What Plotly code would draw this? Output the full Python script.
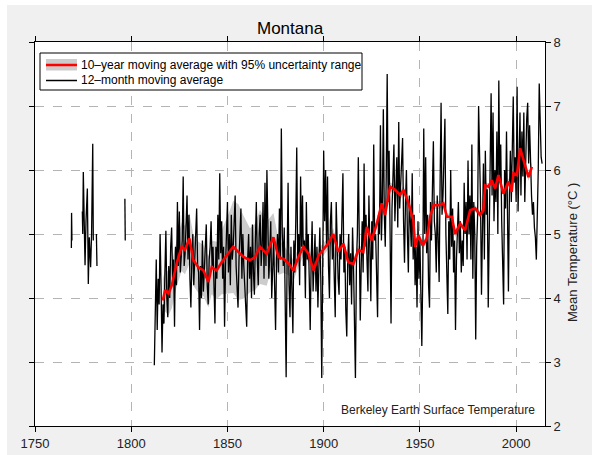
"""
Montana mean temperature, Berkeley Earth style chart.
"""
import plotly.graph_objects as go

# early, fragmentary 12-month moving average records
early_years = [
    [1768.9, 1769.0, 1769.2],
    [1774.6, 1774.8, 1775.1, 1775.6, 1776.0, 1776.5, 1777.2, 1777.7,
     1778.2, 1778.9, 1779.4, 1780.0, 1780.3],
    [1781.9, 1782.2],
    [1796.7, 1796.9],
]
early_temps = [
    [4.78, 5.33, 4.90],
    [5.35, 5.00, 5.97, 4.85, 4.51, 5.20, 5.71, 4.22, 4.95, 4.48, 5.00, 6.41, 4.90],
    [5.00, 4.50],
    [5.55, 4.90],
]

# continuous 12-month moving average, half-year samples from 1812.0
monthly_start = 1812.0
monthly_temps = [
    2.95, 4.0, 4.6, 3.5, 4.3, 3.9, 5.0, 4.2, 3.15, 3.9,    # 1812-1816
    3.6, 4.4, 5.05, 4.0, 3.7, 4.5, 4.0, 4.8, 5.1, 4.3,     # 1817-1821
    4.6, 3.55, 4.8, 4.2, 5.5, 4.5, 5.35, 4.4, 4.6, 4.9,    # 1822-1826
    5.9, 4.5, 4.7, 5.1, 5.6, 4.6, 5.3, 4.3, 3.85, 4.6,     # 1827-1831
    5.0, 4.2, 4.7, 5.0, 5.4, 4.5, 4.4, 3.5, 4.5, 4.0,      # 1832-1836
    4.9, 4.1, 4.4, 4.8, 5.15, 4.2, 3.9, 4.6, 4.8, 5.2,     # 1837-1841
    4.5, 4.8, 4.0, 3.6, 4.8, 4.3, 5.3, 4.6, 5.95, 4.7,     # 1842-1846
    5.2, 4.3, 4.8, 3.55, 4.5, 4.9, 5.5, 4.4, 5.0, 4.2,     # 1847-1851
    5.3, 4.6, 4.8, 5.2, 5.6, 4.5, 4.2, 3.85, 4.6, 4.9,     # 1852-1856
    5.4, 4.3, 5.0, 4.5, 4.1, 3.75, 3.55, 4.6, 5.0, 4.3,    # 1857-1861
    4.8, 4.0, 5.15, 4.4, 4.05, 4.9, 5.5, 4.6, 4.2, 5.0,    # 1862-1866
    5.3, 4.5, 4.8, 5.5, 4.3, 5.8, 4.5, 6.0, 5.1, 4.3,      # 1867-1871
    4.7, 5.2, 4.0, 4.5, 4.9, 4.2, 3.5, 4.6, 5.0, 4.4,      # 1872-1876
    5.4, 4.6, 6.65, 5.0, 4.5, 5.1, 3.6, 2.76, 4.6, 5.8,    # 1877-1881
    4.2, 3.7, 4.8, 4.3, 3.45, 4.9, 4.4, 5.2, 6.35, 4.6,    # 1882-1886
    5.0, 4.2, 5.9, 4.8, 5.6, 4.5, 4.9, 4.0, 5.5, 4.6,      # 1887-1891
    5.0, 4.3, 3.5, 4.6, 5.2, 4.1, 4.5, 5.0, 4.1, 4.8,      # 1892-1896
    3.85, 4.7, 5.1, 4.3, 2.75, 4.5, 6.3, 5.2, 6.0, 4.8,    # 1897-1901
    5.9, 4.5, 4.0, 5.2, 5.5, 4.6, 5.0, 4.3, 3.7, 5.5,      # 1902-1906
    4.8, 4.3, 4.05, 5.0, 4.6, 5.3, 5.95, 4.4, 4.8, 3.8,    # 1907-1911
    3.4, 4.6, 5.0, 4.2, 4.7, 3.9, 5.1, 4.5, 3.8, 2.75,     # 1912-1916
    4.5, 5.0, 6.2, 4.8, 3.65, 4.5, 5.2, 4.4, 6.1, 4.8,     # 1917-1921
    5.3, 4.6, 4.1, 5.6, 4.5, 3.95, 5.2, 4.6, 6.4, 4.9,     # 1922-1926
    5.0, 4.3, 3.7, 5.3, 5.0, 6.7, 4.9, 5.5, 6.95, 5.3,     # 1927-1931
    4.8, 5.9, 7.5, 5.5, 6.3, 5.0, 3.6, 5.4, 5.8, 6.4,      # 1932-1936
    5.2, 6.0, 6.2, 5.1, 6.75, 5.4, 5.8, 6.2, 6.5, 5.2,     # 1937-1941
    4.55, 5.5, 6.0, 5.0, 4.4, 5.6, 5.1, 4.8, 5.95, 4.6,    # 1942-1946
    5.3, 4.2, 4.8, 3.85, 5.2, 4.3, 4.9, 3.6, 3.25, 4.4,    # 1947-1951
    6.65, 5.0, 6.2, 4.7, 5.3, 4.2, 3.85, 5.5, 4.9, 5.7,    # 1952-1956
    6.45, 5.2, 5.0, 4.4, 5.6, 4.9, 4.25, 5.8, 7.05, 5.3,   # 1957-1961
    5.6, 6.2, 6.8, 5.0, 4.5, 3.75, 5.2, 4.6, 6.0, 4.8,     # 1962-1966
    5.4, 4.4, 4.9, 3.5, 4.6, 5.0, 5.5, 4.7, 5.2, 4.4,      # 1967-1971
    4.9, 4.5, 5.8, 5.0, 5.5, 4.6, 6.15, 5.0, 5.6, 4.6,     # 1972-1976
    6.4, 4.3, 5.5, 5.0, 3.35, 4.8, 5.3, 7.0, 6.2, 5.5,     # 1977-1981
    4.05, 5.0, 6.1, 4.6, 6.3, 5.3, 5.7, 3.85, 5.0, 6.2,    # 1982-1986
    7.2, 5.6, 6.9, 5.2, 6.0, 5.5, 6.6, 5.0, 7.4, 5.8,      # 1987-1991
    6.4, 5.2, 4.7, 3.9, 6.0, 5.4, 6.6, 5.2, 4.1, 5.6,      # 1992-1996
    6.3, 5.5, 6.8, 7.15, 5.8, 6.2, 5.5, 7.3, 5.35, 6.5,    # 1997-2001
    6.9, 5.6, 6.6, 5.9, 6.9, 5.5, 6.3, 6.8, 7.05, 6.1,     # 2002-2006
    6.7, 5.8, 5.6, 5.3, 5.5, 5.1, 4.95, 4.6, 5.3, 6.0,     # 2007-2011
    7.35, 6.6, 6.2, 6.1,                                    # 2012-2013
]

# 10-year moving average and its 95% uncertainty half-width
decade_years = [
    1816.4, 1817.6, 1819.4, 1821.1, 1823.6, 1826.2, 1827.9, 1830.2, 1832.3, 1834.9,
    1837.5, 1840.1, 1841.8, 1844.4, 1847.0, 1850.5, 1853.0, 1855.6, 1858.3, 1861.7,
    1864.3, 1866.9, 1870.4, 1873.9, 1876.5, 1879.1, 1881.7, 1884.3, 1886.9, 1889.5,
    1892.1, 1894.7, 1897.3, 1899.9, 1902.5, 1905.0, 1907.6, 1910.2, 1912.8, 1915.4,
    1918.0, 1920.6, 1922.4, 1924.9, 1927.6, 1930.2, 1931.9, 1934.5, 1937.1, 1939.7,
    1941.5, 1944.1, 1946.6, 1947.5, 1949.2, 1951.5, 1953.6, 1955.3, 1957.1, 1959.7,
    1962.2, 1964.0, 1966.6, 1968.3, 1970.9, 1973.5, 1976.1, 1978.7, 1981.3, 1983.0,
    1983.9, 1985.6, 1987.3, 1989.1, 1990.8, 1993.4, 1996.0, 1997.7, 1998.6, 2000.4,
    2002.1, 2003.9, 2006.4, 2008.2,
]
decade_temps = [
    3.96, 4.12, 4.07, 4.20, 4.54, 4.80, 4.75, 4.93, 4.59, 4.48,
    4.43, 4.25, 4.48, 4.43, 4.56, 4.69, 4.80, 4.72, 4.64, 4.59,
    4.64, 4.80, 4.69, 4.95, 4.64, 4.61, 4.54, 4.43, 4.64, 4.80,
    4.69, 4.43, 4.66, 4.76, 4.86, 5.00, 4.72, 4.85, 4.56, 4.53,
    4.75, 4.72, 5.11, 4.90, 5.16, 5.48, 5.30, 5.74, 5.69, 5.61,
    5.69, 5.48, 5.21, 4.80, 4.98, 4.82, 4.93, 5.27, 5.45, 5.45,
    5.48, 5.27, 5.27, 5.00, 5.16, 5.06, 5.37, 5.40, 5.30, 5.37,
    5.76, 5.74, 5.84, 5.71, 5.92, 5.63, 5.82, 5.66, 5.95, 5.92,
    6.34, 6.15, 5.89, 6.05,
]
decade_unc = [
    0.33, 0.33, 0.34, 0.36, 0.36, 0.38, 0.38, 0.40, 0.40, 0.40,
    0.40, 0.40, 0.42, 0.45, 0.50, 0.62, 0.72, 0.75, 0.65, 0.50,
    0.52, 0.58, 0.50, 0.38, 0.28, 0.22, 0.18, 0.16, 0.15, 0.14,
    0.13, 0.12, 0.11, 0.10, 0.09, 0.09, 0.08, 0.08, 0.08, 0.08,
    0.07, 0.07, 0.07, 0.07, 0.07, 0.07, 0.07, 0.07, 0.07, 0.07,
    0.06, 0.06, 0.06, 0.06, 0.06, 0.06, 0.06, 0.06, 0.06, 0.06,
    0.05, 0.05, 0.05, 0.05, 0.05, 0.05, 0.05, 0.05, 0.05, 0.05,
    0.05, 0.05, 0.05, 0.05, 0.05, 0.05, 0.05, 0.05, 0.05, 0.05,
    0.06, 0.06, 0.06, 0.07,
]

x_ticks = [1750, 1800, 1850, 1900, 1950, 2000]
y_ticks = [2, 3, 4, 5, 6, 7, 8]

FONT = "Arial, Liberation Sans, sans-serif"
BG = "#f0f0f0"
GRID = "#b4b4b4"

# plot area in pixels (592x455 page)
L, R, T, B = 35, 545, 42, 426


def px(x):
    return (x - L) / (R - L)


def py(y):
    return (B - y) / (B - T)


# assemble the black line with gaps between fragments
black_x, black_y = [], []
for yrs, vals in zip(early_years, early_temps):
    black_x += yrs + [None]
    black_y += vals + [None]
black_x += [monthly_start + 0.5 * i for i in range(len(monthly_temps))]
black_y += monthly_temps

upper = [t + u for t, u in zip(decade_temps, decade_unc)]
lower = [t - u for t, u in zip(decade_temps, decade_unc)]

fig = go.Figure()
fig.add_trace(go.Scatter(
    x=decade_years + decade_years[::-1],
    y=upper + lower[::-1],
    fill="toself",
    fillcolor="#cccccc",
    line=dict(width=0),
    hoverinfo="skip",
))
fig.add_trace(go.Scatter(
    x=black_x, y=black_y, mode="lines",
    line=dict(color="black", width=1.3),
    connectgaps=False,
))
fig.add_trace(go.Scatter(
    x=decade_years, y=decade_temps, mode="lines",
    line=dict(color="#ff0000", width=2.6),
))

shapes = [
    # grey figure background with the thin white strip top and left
    dict(type="rect", xref="paper", yref="paper", layer="below",
         x0=px(7), x1=px(600), y0=py(460), y1=py(5),
         fillcolor=BG, line=dict(width=0)),
    dict(type="rect", xref="paper", yref="paper", layer="below",
         x0=0, x1=1, y0=0, y1=1, fillcolor="white", line=dict(width=0)),
    # legend box
    dict(type="rect", xref="paper", yref="paper",
         x0=px(40), x1=px(362), y0=py(90), y1=py(53),
         fillcolor="white", line=dict(color="black", width=1)),
    dict(type="rect", xref="paper", yref="paper",
         x0=px(46), x1=px(77), y0=py(70.5), y1=py(59),
         fillcolor="#cccccc", line=dict(width=0)),
    dict(type="line", xref="paper", yref="paper",
         x0=px(46), x1=px(77), y0=py(65), y1=py(65),
         line=dict(color="#ff0000", width=2.5)),
    dict(type="line", xref="paper", yref="paper",
         x0=px(46), x1=px(77), y0=py(80.5), y1=py(80.5),
         line=dict(color="black", width=1.5)),
]

annotations = [
    dict(text="Montana", x=0.5, y=py(28), xref="paper", yref="paper",
         showarrow=False, font=dict(size=17, color="black", family=FONT),
         xanchor="center", yanchor="middle"),
    dict(text="10–year moving average with 95% uncertainty range",
         x=px(79), y=py(64.5), xref="paper", yref="paper", showarrow=False,
         font=dict(size=12, color="black", family=FONT),
         xanchor="left", yanchor="middle"),
    dict(text="12–month moving average",
         x=px(79), y=py(80.5), xref="paper", yref="paper", showarrow=False,
         font=dict(size=12, color="black", family=FONT),
         xanchor="left", yanchor="middle"),
    dict(text="Berkeley Earth Surface Temperature",
         x=px(537), y=py(410), xref="paper", yref="paper", showarrow=False,
         font=dict(size=12, color="#222222", family=FONT),
         xanchor="right", yanchor="middle"),
    dict(text="Mean Temperature (°C )", textangle=-90,
         x=px(572), y=py(253), xref="paper", yref="paper", showarrow=False,
         font=dict(size=13, color="#222222", family=FONT),
         xanchor="center", yanchor="middle"),
]

axis_style = dict(
    showgrid=True, gridcolor=GRID, griddash="dash", gridwidth=1,
    zeroline=False, showline=True, linecolor="black", linewidth=1,
    mirror="ticks", ticks="outside", ticklen=5, tickcolor="black",
    tickfont=dict(size=13, color="#222222", family=FONT),
    automargin=False,
)

fig.update_layout(
    width=592, height=455,
    margin=dict(l=L, r=592 - R, t=T, b=455 - B),
    paper_bgcolor="white",
    plot_bgcolor="rgba(0,0,0,0)",
    showlegend=False,
    shapes=shapes,
    annotations=annotations,
    xaxis=dict(range=[1750, 2015], tickvals=x_ticks, **axis_style),
    yaxis=dict(range=[2, 8], tickvals=y_ticks, side="right", **axis_style),
)

# drop the page's default body margin so the figure sits at the window origin
fig.write_html(
    "out.html",
    config={"displayModeBar": False},
    post_script="document.body.style.margin='0';document.body.style.overflow='hidden';",
)
